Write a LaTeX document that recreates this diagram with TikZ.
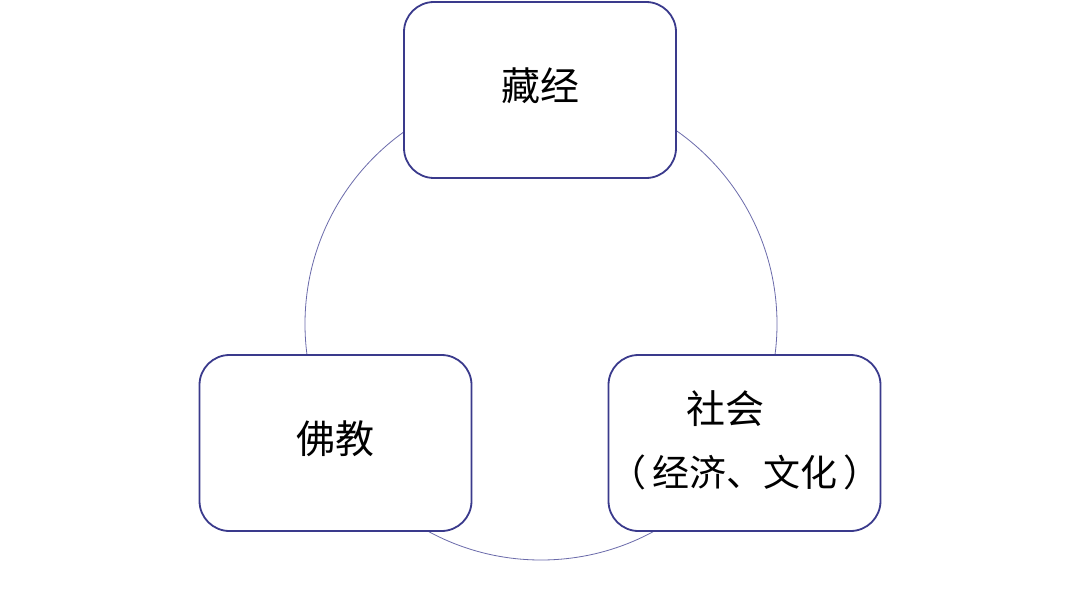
\documentclass[tikz,border=0pt]{standalone}
\usepackage{fontspec}
\newfontfamily\cjk{Noto Sans CJK SC}
\definecolor{boxline}{HTML}{3A3A8C}
\definecolor{ringline}{HTML}{6A6AAA}
\tikzset{
  box/.style={draw=boxline, line width=1.8pt, fill=white, rounded corners=30pt,
    minimum width=272pt, minimum height=176pt, inner sep=0pt},
  bigtxt/.style={font=\cjk\fontsize{39}{44}\selectfont, inner sep=0pt},
  smalltxt/.style={font=\cjk\fontsize{37}{42}\selectfont, inner sep=0pt}
}
\begin{document}
\begin{tikzpicture}[x=1pt,y=-1pt]
\useasboundingbox[fill=white] (0,0) rectangle (1080,594);
\draw[ringline, line width=0.8pt] (541,324) circle [radius=236];
\node[box] (top) at (540,90) {};
\node[box] (left) at (335.5,443) {};
\node[box] (right) at (744.5,443) {};
\node[bigtxt] (t1) at (540,86) {藏经};
\node[bigtxt] (t2) at (335,439) {佛教};
\node[bigtxt] (t3) at (725,409) {社会};
\node[smalltxt] (t4) at (745,472) {（\kern6pt 经济、文化\kern6pt ）};
\end{tikzpicture}
\end{document}
